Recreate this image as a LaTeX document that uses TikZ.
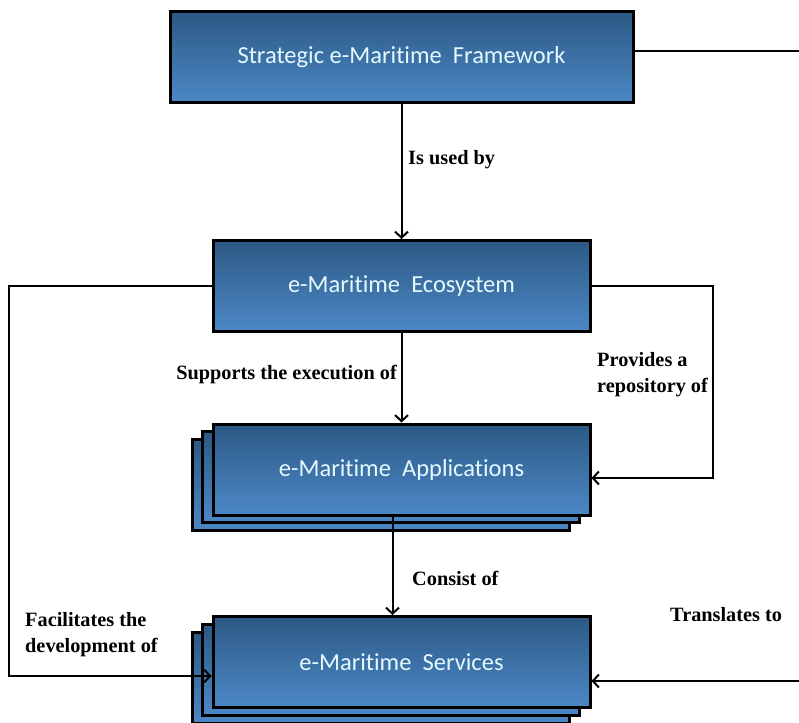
\documentclass[tikz,border=0pt]{standalone}
\usepackage{fontspec}
\setmainfont{Liberation Serif}
\newfontfamily\boxfont[Ligatures=NoCommon]{Carlito}
\usepackage{tikz}
\usetikzlibrary{positioning,calc,arrows.meta}
\definecolor{EMTop}{RGB}{44,89,133}
\definecolor{EMBottom}{RGB}{76,136,198}
\definecolor{EMText}{RGB}{228,248,255}
\tikzset{
    embox/.style={draw=black, line width=3pt, top color=EMTop, bottom color=EMBottom,
        minimum width=377pt, minimum height=91pt, inner sep=0pt, text=EMText,
        font=\boxfont\fontsize{24.5}{28}\selectfont},
    conn/.style={draw=black, line width=2pt},
    arrowto/.style={-{Straight Barb[length=6pt,width=13pt]}},
    edgelabel/.style={font=\bfseries\fontsize{20.3}{26}\selectfont, align=left, inner sep=0pt}
}

\begin{document}
\begin{tikzpicture}[x=1pt, y=-1pt]
    \useasboundingbox (0,0) rectangle (799,722);
    \clip (0,0) rectangle (799,722);

    % --- BOXES ---
    \node[embox, minimum width=463pt] (frame) at (401.5,57.5) {Strategic e-Maritime\ \ Framework};
    \node[embox] (eco) at (401.5,286) {e-Maritime\ \ Ecosystem};

    % stacked copies behind applications and services
    \coordinate (appc) at (401.5,469.5);
    \coordinate (svcc) at (401.5,662);
    \foreach \d in {2,1} {
        \node[embox] (appback\d) at ($(appc)+(-10.5*\d,7.8*\d)$) {};
        \node[embox] (svcback\d) at ($(svcc)+(-10.5*\d,7.8*\d)$) {};
    }
    \node[embox] (app) at (appc) {e-Maritime\ \ Applications};
    \node[embox] (svc) at (svcc) {e-Maritime\ \ Services};

    % --- CONNECTORS ---
    \coordinate (frameout) at (805,51);
    \coordinate (leftfoot) at (9,676);
    \coordinate (rightfoot) at (713,478);
    \coordinate (transin) at (805,681);

    \draw[conn] (frame.east |- frameout) -- (frameout);
    \draw[conn, arrowto] (frame.south) -- (eco.north);
    \draw[conn, arrowto] (eco.south) -- (app.north);
    \draw[conn, arrowto] ([xshift=-9pt]app.south) -- ([xshift=-9pt]svc.north);
    \draw[conn, arrowto] (eco.west) -| (leftfoot) -- (svc.west |- leftfoot);
    \draw[conn, arrowto] (eco.east) -| (rightfoot) -- (app.east |- rightfoot);
    \draw[conn, arrowto] (transin) -- (svc.east |- transin);

    % --- LABELS ---
    \node[edgelabel, anchor=west] (usedby) at (408,160) {Is used by};
    \node[edgelabel, anchor=east] (supports) at (397,375) {Supports the execution of};
    \node[edgelabel, anchor=west] (provides) at (597,375) {Provides a\\repository of};
    \node[edgelabel, anchor=west] (consist) at (412,578) {Consist of};
    \node[edgelabel, anchor=west] (facil) at (25,635) {Facilitates the\\development of};
    \node[edgelabel, anchor=west] (translates) at (670,615) {Translates to};
\end{tikzpicture}
\end{document}
